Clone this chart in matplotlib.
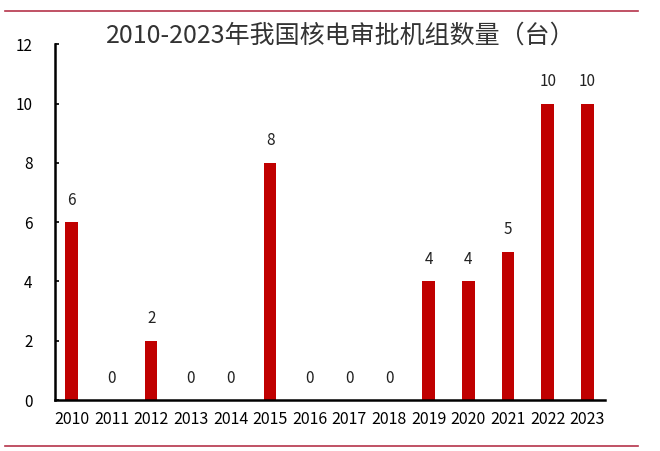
import numpy as np
import matplotlib.pyplot as plt
from matplotlib.lines import Line2D

plt.rcParams['font.family'] = ['Noto Sans CJK SC', 'DejaVu Sans']

years = ['2010', '2011', '2012', '2013', '2014', '2015', '2016',
         '2017', '2018', '2019', '2020', '2021', '2022', '2023']
units = [6, 0, 2, 0, 0, 8, 0, 0, 0, 4, 4, 5, 10, 10]

fig = plt.figure(figsize=(6.6, 4.51), dpi=100)
ax = fig.add_axes([0.083, 0.113, 0.834, 0.789])

x = np.arange(len(years))
ax.bar(x, units, width=0.32, color='#C00000')
for xi, v in zip(x, units):
    ax.text(xi, v + 0.45, str(v), ha='center', va='bottom', fontsize=11, color='#222222')

ax.set_xlim(-0.43, 13.45)
ax.set_ylim(0, 12)
ax.set_yticks(range(0, 13, 2))
ax.set_xticks(x)
ax.set_xticklabels(years)
ax.tick_params(axis='x', length=0, pad=8, labelsize=11.5)
ax.tick_params(axis='y', direction='in', length=3, width=1.2, pad=16, labelsize=11)
for s in ['top', 'right']:
    ax.spines[s].set_visible(False)
for s in ['left', 'bottom']:
    ax.spines[s].set_linewidth(1.8)

fig.text(0.517, 0.922, '2010-2023年我国核电审批机组数量（台）', ha='center', va='center',
         fontsize=18, color='#333333')

# red rules at top and bottom
fig.add_artist(Line2D([0.007, 0.967], [0.975, 0.975], color='#B5344A', lw=1.2))
fig.add_artist(Line2D([0.007, 0.967], [0.01, 0.01], color='#B5344A', lw=1.2))

fig.savefig('out.png', dpi=100, facecolor='white')
